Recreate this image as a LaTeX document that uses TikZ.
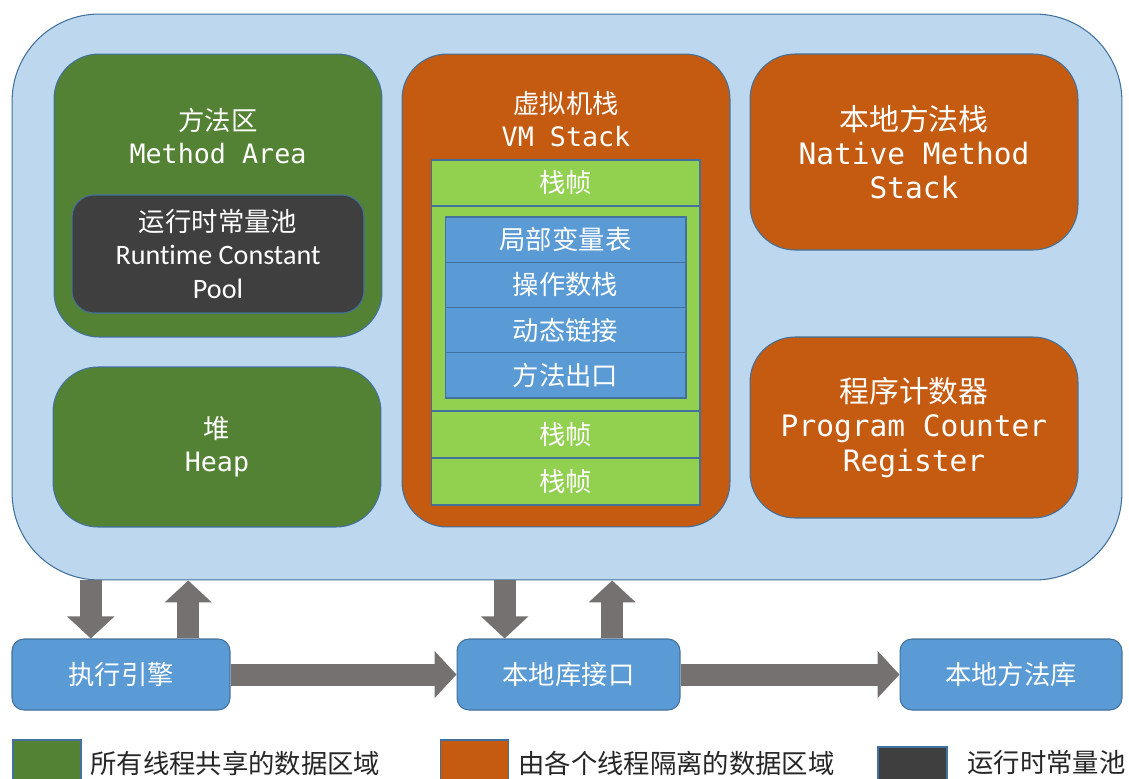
\documentclass[tikz,border=0pt]{standalone}
\usepackage{fontspec}
\setmainfont{Noto Sans CJK SC}
\newfontfamily\monof{DejaVu Sans Mono}
\newfontfamily\calf[Ligatures=NoCommon]{Carlito}
\usetikzlibrary{calc, arrows.meta, positioning}
\definecolor{areabg}{HTML}{BDD7EE}
\definecolor{edge}{HTML}{41719C}
\definecolor{shared}{HTML}{548235}
\definecolor{private}{HTML}{C55A11}
\definecolor{pooldark}{HTML}{3F3F3F}
\definecolor{framegreen}{HTML}{92D050}
\definecolor{slotblue}{HTML}{5B9BD5}
\definecolor{arrowgray}{HTML}{767171}
\newcommand\monotxt[1]{{\monof\fontsize{15.2}{19}\selectfont #1}}
\newcommand\monobig[1]{{\monof\fontsize{16.8}{19.5}\selectfont #1}}
\newcommand\caltxt[1]{{\calf\fontsize{16}{19}\selectfont #1}}

\begin{document}
\begin{tikzpicture}[x=0.02cm, y=-0.02cm,
    area/.style={draw=edge, line width=0.6pt, rounded corners=0.9cm, minimum width=6.56cm, text=white, align=center, inner sep=0pt, font=\fontsize{15}{19}\selectfont},
    label/.style={text=white, align=center, inner sep=0pt, font=\fontsize{15}{19}\selectfont},
    frame/.style={draw=edge, line width=0.6pt, fill=framegreen, minimum width=5.38cm, text=white, inner sep=0pt, font=\fontsize{15}{19}\selectfont},
    slot/.style={draw=edge, line width=0.6pt, fill=slotblue, minimum width=4.82cm, minimum height=0.905cm, text=white, inner sep=0pt, font=\fontsize{15}{19}\selectfont},
    unit/.style={draw=edge, line width=0.6pt, fill=slotblue, rounded corners=0.24cm, minimum height=1.42cm, text=white, inner sep=0pt, font=\fontsize{15}{19}\selectfont},
    swatch/.style={draw=edge, line width=0.6pt, minimum width=1.36cm, minimum height=1cm, inner sep=0pt},
    legtxt/.style={anchor=west, inner sep=0pt, text=black!85, font=\fontsize{15}{19}\selectfont},
    blockarrow/.style={draw=arrowgray, line width=0.44cm, -{Triangle[width=0.92cm, length=0.44cm]}}]
    \useasboundingbox (0,0) rectangle (1129,778);
    \fill[white] (0,0) rectangle (1129,778);

    % runtime data area
    \node[draw=edge, line width=0.6pt, fill=areabg, rounded corners=1.74cm, minimum width=22.2cm, minimum height=11.32cm] (outer) at (567,297) {};

    % shared by all threads
    \node[area, fill=shared, minimum height=5.66cm] (method) at (218,195.5) {};
    \node[label] (methodtitle) at (218,136) {方法区\\\monotxt{Method Area}};
    \node[area, fill=pooldark, rounded corners=0.44cm, minimum width=5.84cm, minimum height=2.36cm] (pool) at (218,254) {运行时常量池\\\caltxt{Runtime Constant}\\\caltxt{Pool}};
    \node[area, fill=shared, minimum height=3.2cm] (heap) at (217,447) {堆\\\monotxt{Heap}};

    % per thread
    \node[area, fill=private, minimum height=9.46cm] (vmstack) at (566,290.5) {};
    \node[label] (vmtitle) at (566,119) {虚拟机栈\\\monotxt{VM Stack}};
    \node[frame, minimum height=0.92cm] (f1) at (565.5,183) {栈帧};
    \node[frame, minimum height=4.1cm] (f2) at (565.5,308.5) {};
    \foreach \t [count=\i] in {局部变量表,操作数栈,动态链接,方法出口}
        \node[slot] (s\i) at (565.5,{239.6+45.25*(\i-1)}) {\t};
    \node[frame, minimum height=0.94cm] (f3) at (565.5,434.5) {栈帧};
    \node[frame, minimum height=0.94cm] (f4) at (565.5,481.5) {栈帧};

    \node[area, fill=private, minimum height=3.92cm, font=\fontsize{17}{19.5}\selectfont] (native) at (914,152) {本地方法栈\\\monobig{Native Method}\\\monobig{Stack}};
    \node[area, fill=private, minimum height=3.62cm, font=\fontsize{17}{19.5}\selectfont] (pc) at (914,427.5) {程序计数器\\\monobig{Program Counter}\\\monobig{Register}};

    % engine and native interface
    \node[unit, minimum width=4.36cm] (engine) at (121,674.5) {执行引擎};
    \node[unit, minimum width=4.46cm] (jni) at (568.5,674.5) {本地库接口};
    \node[unit, minimum width=4.44cm] (nlib) at (1011,674.5) {本地方法库};

    \coordinate (e1) at ($(engine.north west)!.362!(engine.north east)$);
    \coordinate (e2) at ($(engine.north west)!.807!(engine.north east)$);
    \coordinate (j1) at ($(jni.north west)!.215!(jni.north east)$);
    \coordinate (j2) at ($(jni.north west)!.695!(jni.north east)$);
    \draw[blockarrow] (outer.south -| e1) -- (e1);
    \draw[blockarrow] (e2) -- (outer.south -| e2);
    \draw[blockarrow] (outer.south -| j1) -- (j1);
    \draw[blockarrow] (j2) -- (outer.south -| j2);
    \draw[blockarrow] (engine.east) -- (jni.west);
    \draw[blockarrow] (jni.east) -- (nlib.west);

    % legend
    \node[swatch, fill=shared] (sw1) at (47,765) {};
    \node[swatch, fill=private] (sw2) at (474.5,765) {};
    \node[swatch, fill=pooldark, minimum width=1.38cm] (sw3) at (912.5,772) {};
    \node[legtxt] (lt1) at (90,763) {所有线程共享的数据区域};
    \node[legtxt] (lt2) at (518,763) {由各个线程隔离的数据区域};
    \node[legtxt] (lt3) at (967,763) {运行时常量池};

\end{tikzpicture}
\end{document}
